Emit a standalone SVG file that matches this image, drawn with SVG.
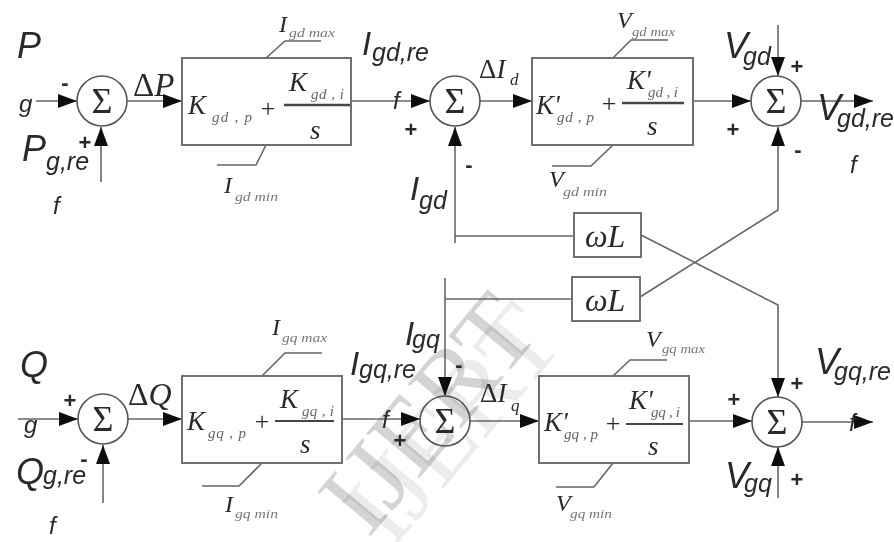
<svg xmlns="http://www.w3.org/2000/svg" width="894" height="542" viewBox="0 0 894 542">
<defs>
<marker id="ah" markerUnits="userSpaceOnUse" markerWidth="20" markerHeight="14" refX="19" refY="7" orient="auto"><path d="M0 0L19 7L0 14Z" fill="#111"/></marker>
<filter id="soft" x="-2%" y="-2%" width="104%" height="104%"><feGaussianBlur stdDeviation="0.55"/></filter>
</defs>
<style>
.ln{fill:none;stroke:#666;stroke-width:1.6}
.bx{fill:none;stroke:#707070;stroke-width:2}
.cr{fill:none;stroke:#555;stroke-width:1.6}
.ar{fill:none;stroke:#666;stroke-width:1.6;marker-end:url(#ah)}
text{fill:#2a2a2a}
.s{font-family:"Liberation Sans",sans-serif;font-style:italic}
.b{font-size:25px}
.m{font-size:24px}
.sg{font-family:"Liberation Sans",sans-serif;font-weight:bold;font-size:22px;text-anchor:middle}
.pl{font-family:"Liberation Serif",serif;font-size:26px;text-anchor:middle}
.t{font-family:"Liberation Serif",serif;font-style:italic}
.K{font-size:27px}
.w{font-size:32px}
.sub{font-size:15px;fill:#666}
.lim{font-size:24px}
.ls{font-size:13px;fill:#777}
.up{font-family:"Liberation Serif",serif;font-size:36px;text-anchor:middle}
.d{font-family:"Liberation Serif",serif}
.wm{font-family:"Liberation Serif",serif;font-size:106px}
</style>
<g id="watermark">
<text class="wm" transform="translate(392 550) rotate(-50)" style="fill:#000;fill-opacity:.075">IJERT</text>
<text class="wm" transform="translate(368 539.5) rotate(-50)" style="fill:#000;fill-opacity:.17">IJERT</text>
</g>
<g filter="url(#soft)">
<g id="connectors">
<path class="ar" d="M36 101H77"/>
<path class="ar" d="M127 101H182"/>
<path class="ar" d="M101 182V127"/>
<path class="ln" d="M351 101H395"/>
<path class="ar" d="M395 101H430"/>
<path class="ar" d="M480 101H532"/>
<path class="ar" d="M693 101H751"/>
<path class="ar" d="M801 101H873"/>
<path class="ar" d="M778 25V76"/>
<path class="ar" d="M455 243V127"/>
<path class="ln" d="M455 236H574"/>
<path class="ar" d="M641 235L778 305V397"/>
<path class="ar" d="M640 297L778 210V127"/>
<path class="ln" d="M445 299H572"/>
<path class="ar" d="M445 278V396"/>
<path class="ar" d="M18 419H78"/>
<path class="ar" d="M128 419H182"/>
<path class="ar" d="M103 503V445"/>
<path class="ln" d="M342 419H395"/>
<path class="ar" d="M395 419H420"/>
<path class="ar" d="M470 421H539"/>
<path class="ar" d="M689 421H752"/>
<path class="ar" d="M802 422H873"/>
<path class="ar" d="M778 498V447"/>
<path class="ln" d="M266 58L285 41H321M266 145L256 165H217"/>
<path class="ln" d="M613 58L631 40H668M613 145L591 166H552"/>
<path class="ln" d="M262 376L285 353H322M262 463L239 486H202"/>
<path class="ln" d="M613 376L630 360H667M613 463L594 487H556"/>
</g>
<g id="sum1"><circle class="cr" cx="102" cy="101" r="25"/><text class="up" x="102" y="113">Σ</text></g>
<g id="sum2"><circle class="cr" cx="455" cy="101" r="25"/><text class="up" x="455" y="113">Σ</text></g>
<g id="sum3"><circle class="cr" cx="776" cy="101" r="25"/><text class="up" x="776" y="113">Σ</text></g>
<g id="sum4"><circle class="cr" cx="103" cy="419" r="25"/><text class="up" x="103" y="431">Σ</text></g>
<g id="sum5"><circle class="cr" cx="445" cy="421" r="25"/><text class="up" x="445" y="433">Σ</text></g>
<g id="sum6"><circle class="cr" cx="777" cy="422" r="25"/><text class="up" x="777" y="434">Σ</text></g>
<g id="pi1"><rect class="bx" x="182" y="58" width="169" height="87"/>
<text class="t K" x="188" y="114">K</text><text class="t sub" x="212" y="122" textLength="40">gd , p</text>
<text class="pl" x="268" y="117">+</text>
<text class="t K" x="289" y="91">K</text><text class="t sub" x="311" y="99" textLength="33">gd , i</text>
<path d="M284 105H350" stroke="#444" stroke-width="2.5" fill="none"/><text class="t K" x="310" y="139">s</text></g>
<g id="pi2"><rect class="bx" x="532" y="58" width="161" height="87"/>
<text class="t K" x="536" y="114">K'</text><text class="t sub" x="557" y="122" textLength="37">gd , p</text>
<text class="pl" x="609" y="112">+</text>
<text class="t K" x="627" y="89">K'</text><text class="t sub" x="648" y="97" textLength="30">gd , i</text>
<path d="M622 103H684" stroke="#444" stroke-width="2.5" fill="none"/><text class="t K" x="647" y="135">s</text></g>
<g id="pi3"><rect class="bx" x="182" y="376" width="160" height="87"/>
<text class="t K" x="187" y="430">K</text><text class="t sub" x="208" y="438" textLength="38">gq , p</text>
<text class="pl" x="262" y="430">+</text>
<text class="t K" x="280" y="408">K</text><text class="t sub" x="302" y="416" textLength="32">gq , i</text>
<path d="M275 421H334" stroke="#444" stroke-width="2.2" fill="none"/><text class="t K" x="300" y="453">s</text></g>
<g id="pi4"><rect class="bx" x="539" y="376" width="150" height="87"/>
<text class="t K" x="544" y="431">K'</text><text class="t sub" x="564" y="439" textLength="34">gq , p</text>
<text class="pl" x="613" y="432">+</text>
<text class="t K" x="629" y="409">K'</text><text class="t sub" x="651" y="417" textLength="29">gq , i</text>
<path d="M626 424H683" stroke="#444" stroke-width="2.2" fill="none"/><text class="t K" x="648" y="455">s</text></g>
<g id="wL1"><rect class="bx" x="574" y="213" width="67" height="44"/><text class="t w" x="585" y="247">ωL</text></g>
<g id="wL2"><rect class="bx" x="572" y="277" width="68" height="44"/><text class="t w" x="585" y="311">ωL</text></g>
<g id="labels">
<text class="s" x="17" y="58" font-size="36">P</text>
<text class="s m" x="19" y="112">g</text>
<text class="s" x="22" y="161" font-size="36">P</text><text class="s b" x="46" y="170">g,re</text>
<text class="s m" x="53" y="214">f</text>
<text class="sg" x="65" y="90">-</text><text class="sg" x="85" y="150">+</text>
<text class="d" x="133" y="96" font-size="33">Δ<tspan font-style="italic">P</tspan></text>
<text class="t lim" x="279" y="32">I</text><text class="t ls" x="289" y="37" textLength="46" lengthAdjust="spacingAndGlyphs">gd max</text>
<text class="t lim" x="224" y="193">I</text><text class="t ls" x="235" y="201" textLength="43" lengthAdjust="spacingAndGlyphs">gd min</text>
<text class="s" x="362" y="55" font-size="33">I</text><text class="s b" x="372" y="61">gd,re</text>
<text class="s m" x="393" y="109">f</text>
<text class="sg" x="411" y="137">+</text>
<text class="s" x="410" y="200" font-size="33">I</text><text class="s b" x="419" y="209">gd</text>
<text class="sg" x="469" y="172">-</text>
<text class="d" x="479" y="78" font-size="27">Δ<tspan font-style="italic">I</tspan></text><text class="t" x="510" y="85" font-size="17">d</text>
<text class="t lim" x="617" y="28">V</text><text class="t ls" x="632" y="36" textLength="43" lengthAdjust="spacingAndGlyphs">gd max</text>
<text class="t lim" x="549" y="187">V</text><text class="t ls" x="563" y="196" textLength="44" lengthAdjust="spacingAndGlyphs">gd min</text>
<text class="s" x="724" y="58" font-size="36">V</text><text class="s b" x="743" y="65">gd</text>
<text class="sg" x="797" y="74">+</text><text class="sg" x="733" y="137">+</text><text class="sg" x="798" y="157">-</text>
<text class="s" x="817" y="120" font-size="36">V</text><text class="s b" x="837" y="127">gd,re</text>
<text class="s m" x="850" y="173">f</text>
<text class="s" x="20" y="377" font-size="36">Q</text>
<text class="s m" x="24" y="433">g</text>
<text class="sg" x="70" y="408">+</text><text class="sg" x="84" y="466">-</text>
<text class="s" x="16" y="484" font-size="36">Q</text><text class="s b" x="43" y="484">g,re</text>
<text class="s m" x="49" y="534">f</text>
<text class="d" x="128" y="405" font-size="32">Δ<tspan font-style="italic">Q</tspan></text>
<text class="t lim" x="272" y="335">I</text><text class="t ls" x="282" y="342" textLength="45" lengthAdjust="spacingAndGlyphs">gq max</text>
<text class="t lim" x="225" y="512">I</text><text class="t ls" x="235" y="518" textLength="43" lengthAdjust="spacingAndGlyphs">gq min</text>
<text class="s" x="350" y="375" font-size="33">I</text><text class="s b" x="359" y="378">gq,re</text>
<text class="s" x="405" y="345" font-size="33">I</text><text class="s b" x="412" y="348">gq</text>
<text class="s m" x="382" y="428">f</text>
<text class="sg" x="400" y="448">+</text><text class="sg" x="459" y="372">-</text>
<text class="d" x="480" y="402" font-size="27">Δ<tspan font-style="italic">I</tspan></text><text class="t" x="511" y="411" font-size="17">q</text>
<text class="t lim" x="646" y="347">V</text><text class="t ls" x="662" y="353" textLength="43" lengthAdjust="spacingAndGlyphs">gq max</text>
<text class="t lim" x="556" y="511">V</text><text class="t ls" x="570" y="518" textLength="42" lengthAdjust="spacingAndGlyphs">gq min</text>
<text class="s" x="815" y="374" font-size="36">V</text><text class="s b" x="834" y="380">gq,re</text>
<text class="sg" x="797" y="391">+</text><text class="sg" x="734" y="407">+</text><text class="sg" x="797" y="487">+</text>
<text class="s" x="725" y="488" font-size="36">V</text><text class="s b" x="744" y="492">gq</text>
<text class="s m" x="849" y="431">f</text>
</g>
</g>
</svg>
